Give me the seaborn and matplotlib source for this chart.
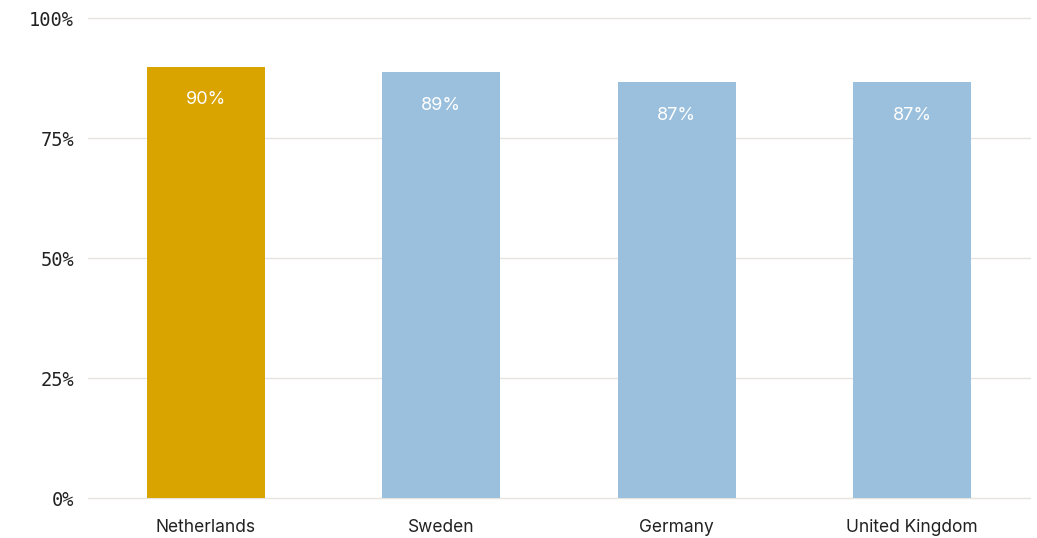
import seaborn as sns
import matplotlib.pyplot as plt
import pandas as pd
from matplotlib.ticker import FuncFormatter

# values
countries = ['Netherlands', 'Sweden', 'Germany', 'United Kingdom']
shares = [89.9, 88.7, 86.6, 86.6]
bar_colors = ['#D9A300', '#9BC0DD', '#9BC0DD', '#9BC0DD']
y_ticks = [0, 25, 50, 75, 100]

df = pd.DataFrame({'country': countries, 'share': shares})

sns.set_style('white')
fig = plt.figure(figsize=(10.37, 5.38), dpi=100)
ax = fig.add_axes([0.0849, 0.0743, 0.9083, 0.8922])

sns.barplot(x='country', y='share', data=df, hue='country', palette=bar_colors,
            width=0.5, saturation=1, linewidth=0, legend=False, ax=ax, zorder=2)

ax.set_ylim(0, 100)
ax.set_yticks(y_ticks)
ax.yaxis.set_major_formatter(FuncFormatter(lambda v, p: f'{v:.0f}%'))
ax.grid(axis='y', color='#e6e4de', linewidth=1, zorder=0)
ax.set_axisbelow(True)
for gl in ax.get_ygridlines():
    gl.set_clip_on(False)
sns.despine(left=True, bottom=True)
ax.tick_params(axis='both', length=0)
ax.tick_params(axis='y', pad=10)
ax.tick_params(axis='x', pad=15)
for lbl in ax.get_yticklabels():
    lbl.set_fontfamily('DejaVu Sans Mono')
    lbl.set_fontsize(13.5)
    lbl.set_color('#222222')
for lbl in ax.get_xticklabels():
    lbl.set_fontfamily('Inter')
    lbl.set_fontsize(12.5)
    lbl.set_color('#222222')
ax.set_xlabel('')
ax.set_ylabel('')

for cont in ax.containers:
    ax.bar_label(cont, labels=[f'{v:.0f}%' for v in cont.datavalues],
                 label_type='edge', padding=-30, color='white',
                 fontsize=13, fontfamily='Inter')

plt.savefig('out.png', dpi=100)
